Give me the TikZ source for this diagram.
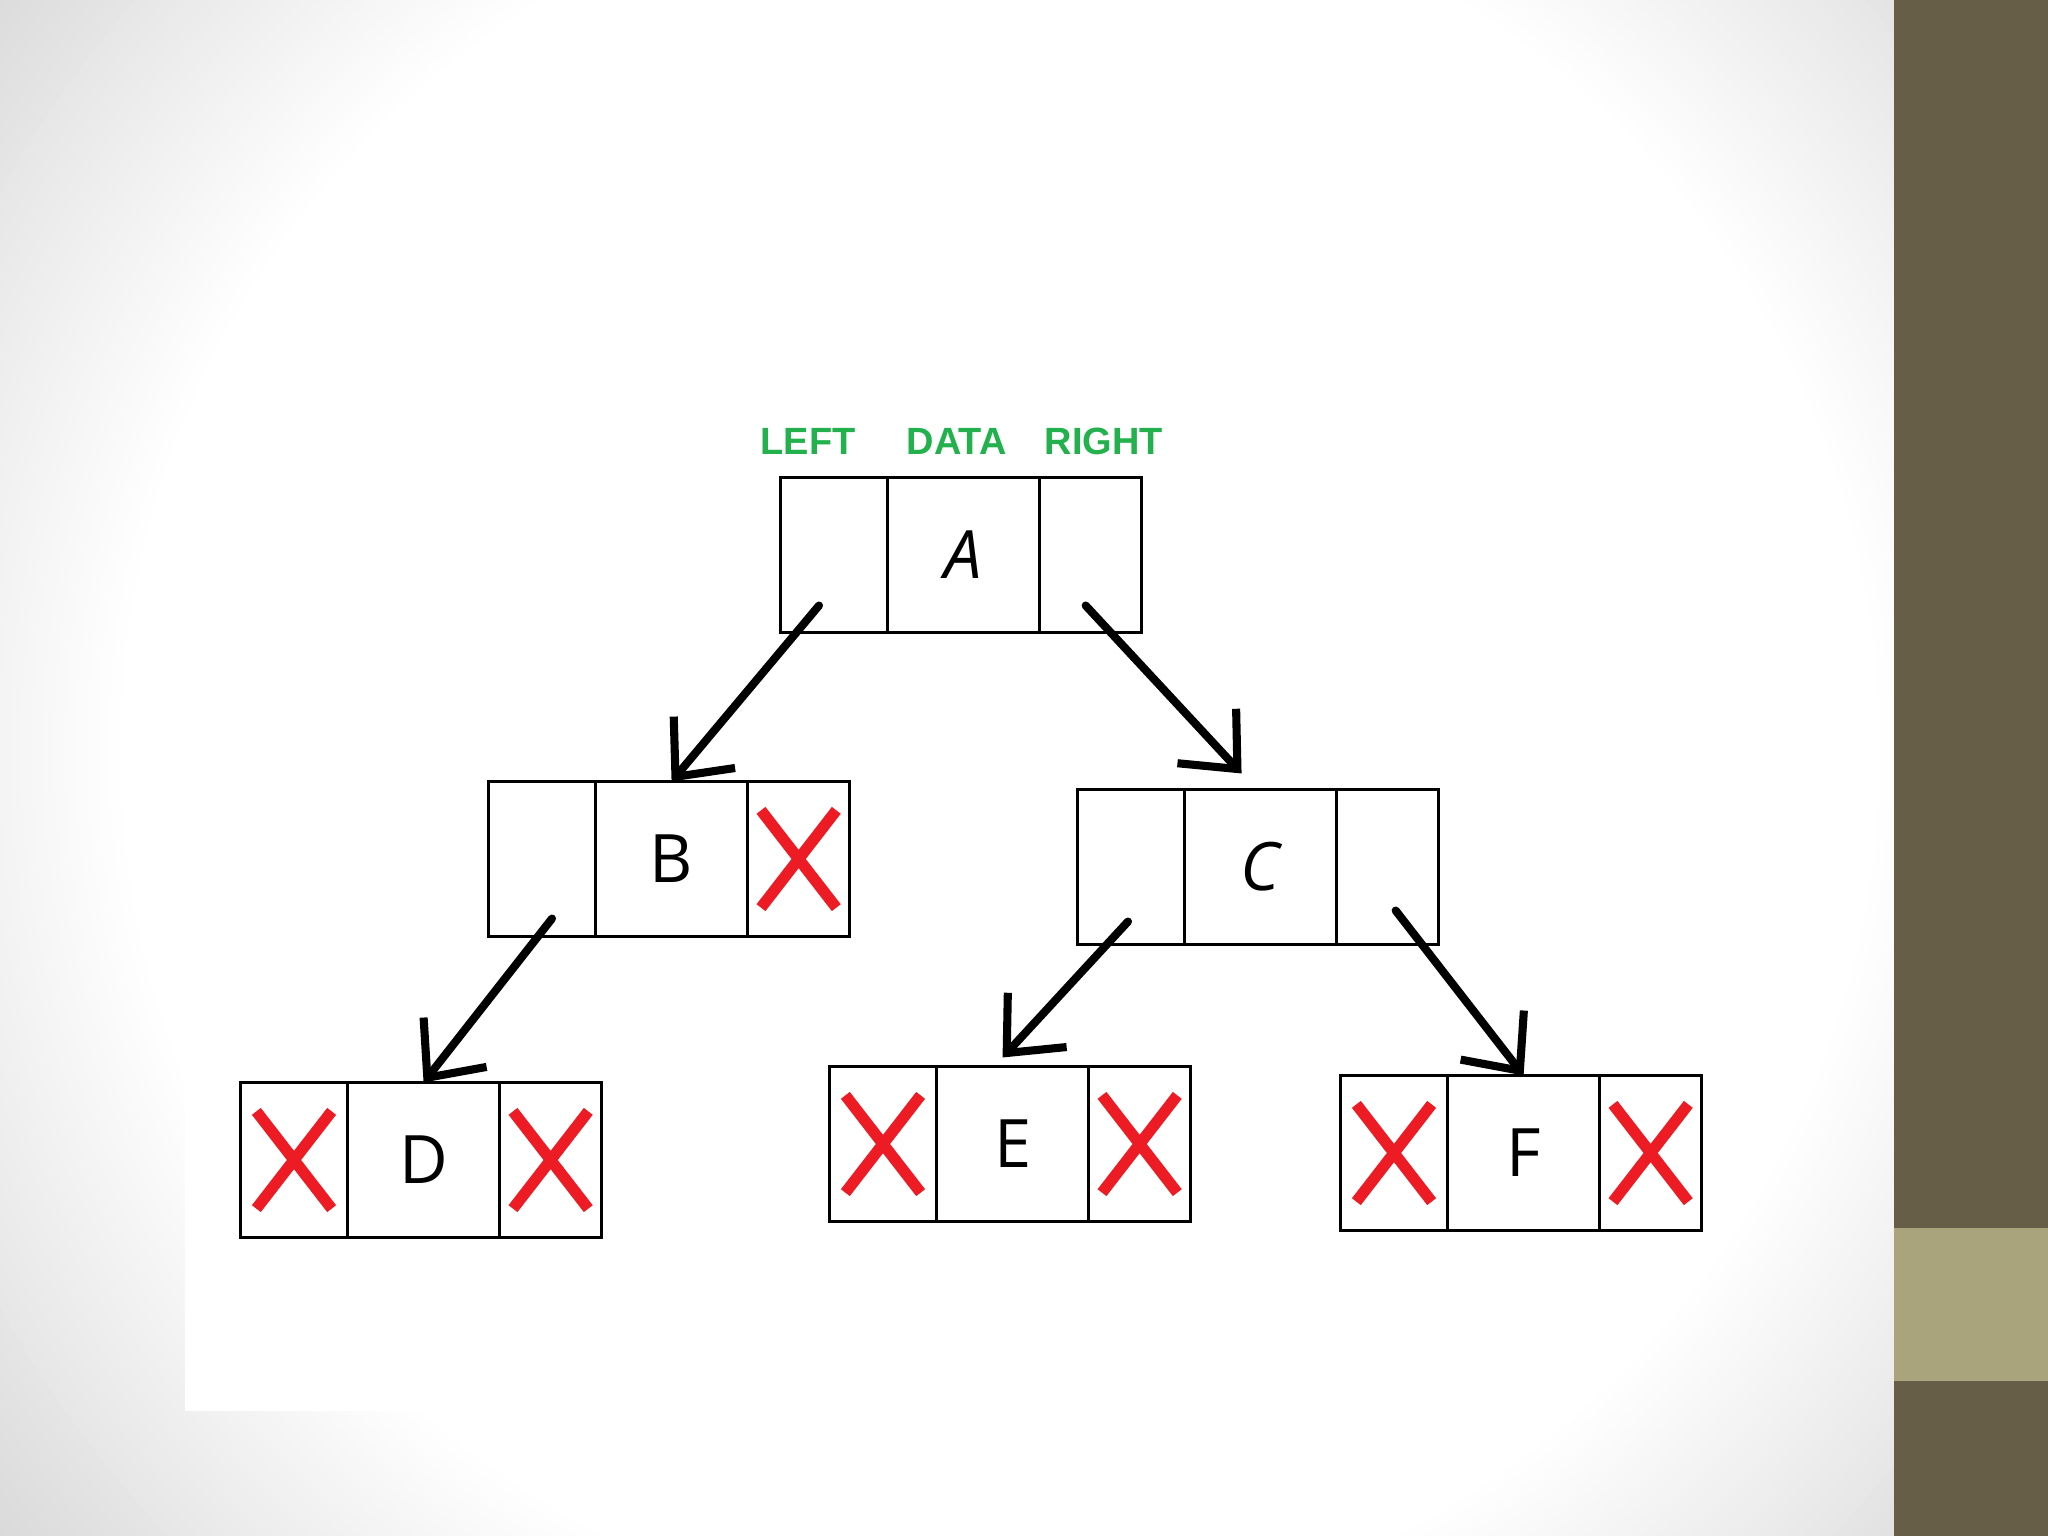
\documentclass[tikz,border=0pt]{standalone}
\usepackage{fontspec}
\setmainfont{Open Sans}
\newfontfamily\tagfont{Liberation Sans}
\usetikzlibrary{positioning,arrows.meta,shapes.misc}
\definecolor{tagGreen}{RGB}{34,177,76}
\definecolor{nilRed}{RGB}{237,28,36}
\definecolor{slideGray}{RGB}{214,214,214}
\definecolor{barDark}{RGB}{103,94,72}
\definecolor{barLight}{RGB}{170,164,124}

\begin{document}
\begin{tikzpicture}[x=0.01cm, y=-0.01cm,
    cell/.style={draw, line width=0.9pt, minimum height=1.55cm, inner sep=0pt, outer sep=0pt},
    lcell/.style={cell, minimum width=1.07cm},
    dcell/.style={cell, minimum width=1.52cm, font=\fontsize{19}{22}\selectfont},
    rcell/.style={cell, minimum width=1.02cm},
    nil/.style={cross out, draw=nilRed, line width=3.2pt, minimum width=0.64cm, minimum height=0.86cm, inner sep=0pt},
    tag/.style={text=tagGreen, inner sep=0pt, font=\tagfont\bfseries\fontsize{10.8}{13}\selectfont},
    ptr/.style={line width=2.3pt, line cap=round, -{Straight Barb[length=0.45cm, width=0.8cm]}}]

  \useasboundingbox (0,0) rectangle (2048,1536);
  % slide background, grey towards the corners
  \begin{scope}
    \clip (0,0) rectangle (1894,1536);
    \fill[slideGray] (0,0) rectangle (1894,1536);
    \foreach \i in {0,...,40} {
      \pgfmathsetmacro\wp{100*\i/40}
      \pgfmathsetmacro\rr{13.2-0.11*\i}
      \fill[white!\wp!slideGray] (1000,750) circle [radius=\rr cm];
    }
  \end{scope}
  \fill[white] (185,900) rectangle (1500,1411);
  \fill[barDark] (1894,0) rectangle (2048,1536);
  \fill[barLight] (1894,1228) rectangle (2048,1381);

  \foreach \n/\px/\py/\lbl in {A/834/555/{\itshape A}, B/542/859/B, C/1131/867/{\itshape C}, D/294/1160/D, E/883/1144/E, F/1394/1153/F} {
    \node[lcell] (l\n) at (\px,\py) {};
    \node[dcell, right=0pt of l\n] (d\n) {\lbl};
    \node[rcell, right=0pt of d\n] (r\n) {};
  }

  \foreach \c in {rB,lD,rD,lE,rE,lF,rF}
    \node[nil] (x\c) at (\c) {};

  \node[tag, above=0.22cm of lA, xshift=-0.26cm] (tagL) {LEFT};
  \node[tag, above=0.22cm of dA, xshift=-0.07cm] (tagD) {DATA};
  \node[tag, above=0.22cm of rA, xshift=0.13cm] (tagR) {RIGHT};

  \draw[ptr] ([xshift=-0.15cm,yshift=0.27cm]lA.south) -- (dB.north);
  \draw[ptr] ([xshift=-0.05cm,yshift=0.27cm]rA.south) -- ([xshift=-0.19cm,yshift=0.16cm]dC.north);
  \draw[ptr] ([xshift=0.1cm,yshift=0.18cm]lB.south) -- (dD.north);
  \draw[ptr] ([xshift=-0.03cm,yshift=0.23cm]lC.south) -- ([xshift=-0.1cm,yshift=0.09cm]dE.north);
  \draw[ptr] ([xshift=0.08cm,yshift=0.34cm]rC.south) -- (dF.north);
\end{tikzpicture}
\end{document}
